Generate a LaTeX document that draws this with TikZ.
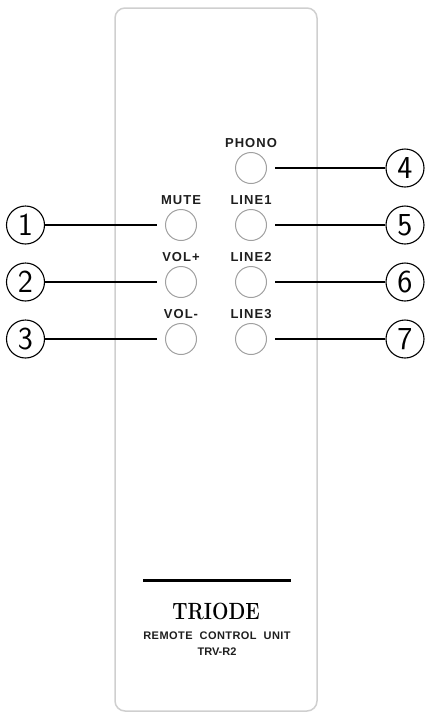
\documentclass[tikz,border=0pt]{standalone}
\usepackage{fontspec}
\newfontfamily\labfont[LetterSpace=8]{Liberation Sans}
\newfontfamily\brandfont[LetterSpace=4]{Liberation Sans}
\newfontfamily\modelfont{Liberation Sans}
\definecolor{bodygray}{HTML}{CFCFCF}
\definecolor{btngray}{HTML}{A0A0A0}
\definecolor{labgray}{HTML}{1E1E1E}
\tikzset{
  body/.style={draw=bodygray, line width=1.5pt, rounded corners=10pt},
  btn/.style={circle, draw=btngray, line width=1pt, minimum size=31pt, inner sep=0pt},
  btnlabel/.style={text=labgray, inner sep=0pt, font=\labfont\bfseries\fontsize{13}{15}\selectfont},
  callout/.style={circle, draw=black, line width=1.1pt, minimum size=38pt, inner sep=0pt,
    font=\sffamily\fontsize{32}{32}\selectfont},
  leader/.style={draw=black, line width=2.4pt},
}
\begin{document}
\begin{tikzpicture}[x=1pt, y=-1pt]
\useasboundingbox (0,0) rectangle (425,713);
% remote body
\draw[body] (115,8) rectangle (317,711);
% buttons
\node[btn] (phono) at (251,168) {};
\node[btn] (mute) at (181,225) {};
\node[btn] (line1) at (251,225) {};
\node[btn] (volp) at (181,282) {};
\node[btn] (line2) at (251,282) {};
\node[btn] (volm) at (181,339) {};
\node[btn] (line3) at (251,339) {};
% labels
\node[btnlabel] (lphono) at (251,143) {PHONO};
\node[btnlabel] (lmute) at (181,200) {MUTE};
\node[btnlabel] (lline1) at (251,200) {LINE1};
\node[btnlabel] (lvolp) at (181,257) {VOL+};
\node[btnlabel] (lline2) at (251,257) {LINE2};
\node[btnlabel] (lvolm) at (181,314) {VOL-};
\node[btnlabel] (lline3) at (251,314) {LINE3};
% callouts
\node[callout] (c1) at (25.5,225) {1};
\node[callout] (c2) at (25.5,282) {2};
\node[callout] (c3) at (25.5,339) {3};
\node[callout] (c4) at (405,168) {4};
\node[callout] (c5) at (405,225) {5};
\node[callout] (c6) at (405,282) {6};
\node[callout] (c7) at (405,339) {7};
% leaders
\path[leader] (c1.east) -- ([xshift=-8pt]mute.west);
\path[leader] (c2.east) -- ([xshift=-8pt]volp.west);
\path[leader] (c3.east) -- ([xshift=-8pt]volm.west);
\path[leader] ([xshift=8pt]phono.east) -- (c4.west);
\path[leader] ([xshift=8pt]line1.east) -- (c5.west);
\path[leader] ([xshift=8pt]line2.east) -- (c6.west);
\path[leader] ([xshift=8pt]line3.east) -- (c7.west);
% brand area
\coordinate (barl) at (143,580);
\coordinate (barr) at (291,580);
\draw[line width=3pt] (barl) -- (barr);
\node[inner sep=0pt, font=\rmfamily\bfseries\fontsize{23.5}{24}\selectfont] (triode) at (216,611) {\scalebox{0.83}[1]{TRIODE}};
\node[inner sep=0pt, text=labgray, font=\brandfont\bfseries\fontsize{11}{12}\selectfont] (rcu) at (217,636) {REMOTE\ \ CONTROL\ \ UNIT};
\node[inner sep=0pt, text=labgray, font=\modelfont\bfseries\fontsize{11}{12}\selectfont] (model) at (217,652) {TRV-R2};
\end{tikzpicture}
\end{document}
